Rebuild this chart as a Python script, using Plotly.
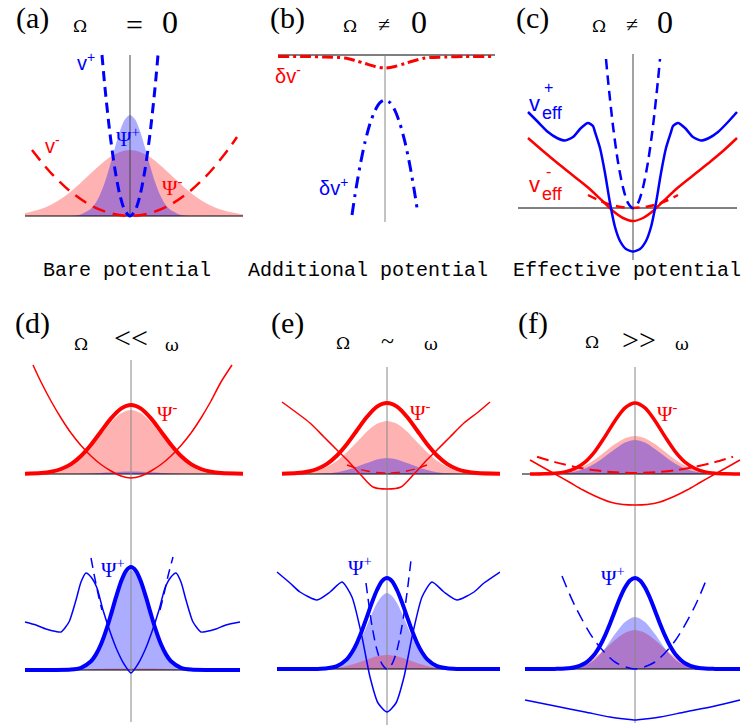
import plotly.graph_objects as go

W, H = 749, 727
UNIT = 10.0
RED = "#ff0000"
BLUE = "#0000ff"
PINK_FILL = "rgba(255,0,0,0.30)"
BLUE_FILL = "rgba(0,0,255,0.32)"

# ---------------- data (panel units) ----------------
# (a) bare potential
a_x_wide = [-10.5, -10, -9, -8, -7, -6, -5, -4, -3, -2, -1, 0, 1, 2, 3, 4, 5, 6, 7, 8, 9, 10, 11, 11.3]
a_psi_minus = [0.3, 0.39, 0.67, 1.07, 1.64, 2.38, 3.25, 4.19, 5.11, 5.89, 6.41, 6.6, 6.41, 5.89, 5.11, 4.19, 3.25, 2.38, 1.64, 1.07, 0.67, 0.39, 0.21, 0.18]
a_x_narrow = [-6, -5, -4, -3.5, -3, -2.5, -2, -1.5, -1, -0.5, 0, 0.5, 1, 1.5, 2, 2.5, 3, 3.5, 4, 5, 6]
a_psi_plus = [0.0, 0.13, 0.64, 1.22, 2.13, 3.42, 5.05, 6.85, 8.5, 9.67, 10.1, 9.67, 8.5, 6.85, 5.05, 3.42, 2.13, 1.22, 0.64, 0.13, 0.0]
a_vplus_x = [-2.8, -2.5, -2, -1.5, -1, -0.5, 0, 0.5, 1, 1.5, 2, 2.5, 2.8]
a_vplus = [16.1, 12.8, 8.21, 4.62, 2.05, 0.51, 0, 0.51, 2.05, 4.62, 8.21, 12.8, 16.1]
a_vminus_x = [-9.8, -8, -6, -4, -2, 0, 2, 4, 6, 8, 10, 10.7]
a_vminus = [6.6, 4.4, 2.48, 1.1, 0.28, 0, 0.28, 1.1, 2.48, 4.4, 6.9, 7.9]

# (b) additional potential
b_dm_x = [-10.7, -8, -6, -4, -3, -2, -1, 0, 1, 2, 3, 4, 6, 8, 11]
b_dm = [-0.15, -0.15, -0.2, -0.3, -0.55, -0.85, -1.15, -1.3, -1.15, -0.85, -0.55, -0.3, -0.2, -0.15, -0.15]
b_dp_x = [-3.3, -3, -2.5, -2, -1.5, -1, -0.5, 0, 0.5, 1, 1.5, 2, 2.5, 3, 3.2]
b_dp = [-16.0, -14.0, -11.1, -8.72, -6.88, -5.56, -4.76, -4.5, -4.76, -5.56, -6.88, -8.72, -11.1, -14.0, -15.3]

# (c) effective potential
c_vp_x = [-10.5, -9.5, -8.5, -7.6, -6.8, -6.0, -5.2, -4.5, -4.0, -3.8, -3.3, -2.8, -2.3, -1.8, -1.3, -0.7, 0,
          0.7, 1.3, 1.8, 2.3, 2.8, 3.3, 3.8, 4.0, 4.5, 5.2, 6.0, 6.8, 7.6, 8.5, 9.5, 10.4]
c_vp = [9.6, 8.6, 7.6, 7.0, 6.75, 7.1, 8.0, 8.5, 8.2, 7.6, 6.0, 3.5, 0.5, -1.9, -3.3, -4.1, -4.35,
        -4.1, -3.3, -1.9, 0.5, 3.5, 6.0, 7.6, 8.2, 8.5, 8.0, 7.1, 6.75, 7.0, 7.6, 8.6, 9.6]
c_vm_x = [-10.5, -9, -7.5, -6, -4.5, -3, -2, -1, 0, 1, 2, 3, 4.5, 6, 7.5, 9, 10.4]
c_vm = [7.0, 5.7, 4.45, 3.25, 2.05, 0.65, -0.3, -1.0, -1.3, -1.0, -0.3, 0.65, 2.05, 3.25, 4.45, 5.7, 7.0]
c_bp_x = [-2.7, -2.5, -2, -1.5, -1, -0.5, 0, 0.5, 1, 1.5, 2, 2.5, 2.7]
c_bp = [14.9, 12.8, 8.2, 4.6, 2.05, 0.5, 0, 0.5, 2.05, 4.6, 8.2, 12.8, 14.9]
c_bm_x = [-4.5, -3.5, -2.5, -1.5, 0, 1.5, 2.5, 3.5, 4.5]
c_bm = [1.3, 0.8, 0.4, 0.15, 0, 0.15, 0.4, 0.8, 1.3]

# (d) Omega << omega, top (red)
d_x = [-10.6, -9, -8, -7, -6, -5, -4, -3, -2, -1, 0, 1, 2, 3, 4, 5, 6, 7, 8, 9, 11.2]
d_red_thick = [0.02, 0.09, 0.22, 0.5, 0.99, 1.8, 2.92, 4.25, 5.56, 6.54, 6.9, 6.54, 5.56, 4.25, 2.92, 1.8, 0.99, 0.5, 0.22, 0.09, 0.02]
d_pink_fill = [0.02, 0.08, 0.2, 0.46, 0.92, 1.67, 2.71, 3.94, 5.16, 6.07, 6.4, 6.07, 5.16, 3.94, 2.71, 1.67, 0.92, 0.46, 0.2, 0.08, 0.02]
d_top_blue_fill_x = [-5, -4, -3, -2, -1, 0, 1, 2, 3, 4, 5]
d_top_blue_fill = [0.02, 0.05, 0.1, 0.17, 0.23, 0.25, 0.23, 0.17, 0.1, 0.05, 0.02]
d_vm_x = [-9.8, -9, -8, -7, -6, -5, -4, -3, -2, -1, 0, 1, 2, 3, 4, 5, 6, 7, 8, 9, 10.1]
d_vm = [10.9, 9.2, 7.3, 5.6, 4.1, 2.85, 1.8, 0.95, 0.3, -0.2, -0.4, -0.2, 0.3, 0.95, 1.8, 2.85, 4.1, 5.6, 7.3, 9.2, 10.9]
# (d) bottom (blue)
db_x = [-10.6, -8, -6, -5, -4, -3.5, -3, -2.5, -2, -1.5, -1, -0.5, 0, 0.5, 1, 1.5, 2, 2.5, 3, 3.5, 4, 5, 6, 8, 10.9]
db_blue_thick = [0, 0, 0.04, 0.22, 0.87, 1.56, 2.57, 3.93, 5.55, 7.28, 8.83, 9.91, 10.3, 9.91, 8.83, 7.28, 5.55, 3.93, 2.57, 1.56, 0.87, 0.22, 0.04, 0, 0]
db_blue_fill = [0, 0, 0.04, 0.21, 0.84, 1.51, 2.49, 3.81, 5.38, 7.06, 8.57, 9.61, 10.0, 9.61, 8.57, 7.06, 5.38, 3.81, 2.49, 1.51, 0.84, 0.21, 0.04, 0, 0]
db_pink_fill_x = [-6, -4, -2, 0, 2, 4, 6]
db_pink_fill = [0.02, 0.08, 0.14, 0.16, 0.14, 0.08, 0.02]
db_veff_x = [-10.6, -9.5, -8.5, -7.5, -7.0, -6.2, -5.5, -5.0, -4.5, -4.0, -3.4, -2.8, -2.05, -1.4, -0.7, 0,
             0.7, 1.4, 2.05, 2.8, 3.4, 4.0, 4.5, 5.0, 5.5, 6.2, 7.0, 7.5, 8.5, 9.5, 10.9]
db_veff = [4.8, 4.5, 4.1, 3.85, 3.8, 4.8, 7.0, 8.8, 9.7, 9.3, 8.2, 6.0, 3.7, 2.0, 0.6, -0.3,
           0.6, 2.0, 3.7, 6.0, 8.2, 9.3, 9.7, 8.8, 7.0, 4.8, 3.8, 3.85, 4.1, 4.5, 4.8]
# only the upper parts of the bare dashed parabola are visible
db_dash_x = [-4.0, -3.6, -3.2, -2.9, None, 2.9, 3.3, 3.7, 4.2]
db_dash = [11.2, 9.1, 7.2, 6.0, None, 6.0, 7.6, 9.4, 11.3]

# (e) Omega ~ omega, top (red)
e_x = [-10.5, -9, -8, -7, -6, -5, -4, -3, -2, -1, 0, 1, 2, 3, 4, 5, 6, 7, 8, 9, 11.3]
e_red_thick = [0.02, 0.09, 0.22, 0.5, 1.02, 1.85, 3.0, 4.37, 5.72, 6.74, 7.1, 6.74, 5.72, 4.37, 3.0, 1.85, 1.02, 0.5, 0.22, 0.09, 0.02]
e_pink_fill = [0.01, 0.06, 0.15, 0.35, 0.72, 1.32, 2.2, 3.2, 4.25, 5.02, 5.3, 5.02, 4.25, 3.2, 2.2, 1.32, 0.72, 0.35, 0.15, 0.06, 0.01]
e_top_blue_fill_x = [-7, -6, -5, -4, -3, -2, -1, 0, 1, 2, 3, 4, 5, 6, 7]
e_top_blue_fill = [0.02, 0.07, 0.18, 0.4, 0.73, 1.1, 1.46, 1.6, 1.46, 1.1, 0.73, 0.4, 0.18, 0.07, 0.02]
e_vm_x = [-10.5, -9, -7.7, -6.3, -5.0, -3.8, -2.7, -1.4, 0, 1.4, 2.7, 3.8, 5.0, 6.3, 7.7, 9, 10.3]
e_vm = [7.2, 6.1, 5.1, 3.7, 2.4, 1.2, 0, -1.3, -1.5, -1.3, 0, 1.2, 2.4, 3.7, 5.1, 6.1, 7.2]
e_bm_x = [-4, -3, -2, -1, 0, 1, 2, 3, 4]
e_bm = [0.9, 0.55, 0.3, 0.15, 0.1, 0.15, 0.3, 0.55, 0.9]
# (e) bottom (blue)
eb_x = [-11, -8, -7, -6, -5, -4, -3.5, -3, -2.5, -2, -1.5, -1, -0.5, 0, 0.5, 1, 1.5, 2, 2.5, 3, 3.5, 4, 5, 6, 7, 8, 11.3]
eb_blue_thick = [0, 0, 0.01, 0.07, 0.29, 0.99, 1.67, 2.62, 3.85, 5.24, 6.66, 7.9, 8.79, 9.1, 8.79, 7.9, 6.66, 5.24, 3.85, 2.62, 1.67, 0.99, 0.29, 0.07, 0.01, 0, 0]
eb_blue_fill = [0, 0, 0.01, 0.05, 0.24, 0.82, 1.39, 2.18, 3.2, 4.37, 5.55, 6.6, 7.3, 7.6, 7.3, 6.6, 5.55, 4.37, 3.2, 2.18, 1.39, 0.82, 0.24, 0.05, 0.01, 0, 0]
eb_pink_fill_x = [-7, -6, -5, -4, -3, -2, -1, 0, 1, 2, 3, 4, 5, 6, 7]
eb_pink_fill = [0.02, 0.05, 0.13, 0.31, 0.6, 0.96, 1.27, 1.4, 1.27, 0.96, 0.6, 0.31, 0.13, 0.05, 0.02]
eb_veff_x = [-11, -9.7, -8.7, -7.0, -5.7, -4.5, -3.5, -2.5, -1.7, -0.9, 0, 0.9, 1.7, 2.5, 3.5, 4.5, 5.7, 7.0, 8.7, 9.7, 11.3]
eb_veff = [9.7, 8.6, 7.7, 6.9, 7.7, 8.7, 7.2, 3.2, -0.8, -3.4, -4.3, -3.4, -0.8, 3.2, 7.2, 8.7, 7.7, 6.9, 7.7, 8.6, 9.7]
eb_dash_x = [-2.1, -1.5, -1, -0.5, 0, 0.5, 1, 1.5, 2, 2.4]
eb_dash = [8.6, 4.3, 1.9, 0.5, 0, 0.5, 1.9, 4.3, 7.6, 10.9]

# (f) Omega >> omega, top (red)
f_x = [-10.5, -10, -9, -8, -7, -6, -5, -4, -3, -2, -1, 0, 1, 2, 3, 4, 5, 6, 7, 8, 9, 10.5]
f_red_thick = [0, 0, 0.02, 0.07, 0.21, 0.55, 1.19, 2.27, 3.74, 5.33, 6.61, 7.1, 6.61, 5.33, 3.74, 2.27, 1.19, 0.55, 0.21, 0.07, 0.02, 0]
f_pink_fill = [0, 0.01, 0.03, 0.08, 0.2, 0.44, 0.86, 1.46, 2.22, 2.99, 3.58, 3.8, 3.58, 2.99, 2.22, 1.46, 0.86, 0.44, 0.2, 0.08, 0.03, 0.01]
f_blue_fill = [0, 0, 0.01, 0.03, 0.09, 0.24, 0.54, 1.04, 1.75, 2.5, 3.15, 3.4, 3.15, 2.5, 1.75, 1.04, 0.54, 0.24, 0.09, 0.03, 0.01, 0]
f_vm_x = [-10.5, -9, -8, -6.5, -5.2, -4, -2.5, -1.2, 0, 1.2, 2.5, 4, 5.2, 6.5, 8, 9, 10.5]
f_vm = [1.4, 0.55, 0, -0.85, -1.6, -2.2, -2.8, -3.05, -3.1, -3.05, -2.8, -2.2, -1.6, -0.85, 0, 0.55, 1.4]
f_bm_x = [-9.8, -8, -6, -4, -2, 0, 2, 4, 6, 8, 9.8]
f_bm = [1.73, 1.19, 0.71, 0.37, 0.17, 0.1, 0.17, 0.37, 0.71, 1.19, 1.73]
# (f) bottom (blue)
fb_x = [-11, -9, -8, -7, -6, -5, -4, -3.5, -3, -2.5, -2, -1.5, -1, -0.5, 0, 0.5, 1, 1.5, 2, 2.5, 3, 3.5, 4, 5, 6, 7, 8, 10.5]
fb_blue_thick = [0, 0, 0.01, 0.04, 0.17, 0.57, 1.53, 2.32, 3.34, 4.53, 5.83, 7.1, 8.15, 8.85, 9.1, 8.85, 8.15, 7.1, 5.83, 4.53, 3.34, 2.32, 1.53, 0.57, 0.17, 0.04, 0.01, 0]
fb_fill_x = [-8, -7, -6, -5, -4, -3, -2, -1, 0, 1, 2, 3, 4, 5, 6, 7, 8]
fb_blue_fill = [0.01, 0.03, 0.12, 0.37, 0.98, 2.05, 3.49, 4.7, 5.2, 4.7, 3.49, 2.05, 0.98, 0.37, 0.12, 0.03, 0.01]
fb_pink_fill = [0.03, 0.1, 0.27, 0.62, 1.2, 2.0, 2.9, 3.62, 3.9, 3.62, 2.9, 2.0, 1.2, 0.62, 0.27, 0.1, 0.03]
fb_dash_x = [-7.3, -6, -4, -2, 0, 2, 4, 6, 7.2]
fb_dash = [9.3, 6.3, 2.8, 0.7, 0, 0.7, 2.8, 6.3, 9.1]
fb_low_x = [-11, -8, -5, -2.5, -1, 0, 1, 2.5, 5, 8, 10.5]
fb_low = [-3.1, -3.7, -4.3, -4.8, -5.0, -5.1, -5.0, -4.8, -4.3, -3.7, -3.1]

# axis-line extents (panel units): h = (xmin, xmax), v = (ymin, ymax)
axes_ext = {
    'a': ((-10.5, 11.3), (0, 16.1), "#444"),
    'b': ((-10.7, 11.0), (-16.7, 0), "#888"),
    'c': ((-11.5, 10.4), (-5.2, 15.4), "#444"),
    'dt': ((-10.6, 11.2), (-4.7, 11.4), "#888"),
    'db': ((-10.6, 10.9), (-5.2, 15.1), "#888"),
    'et': ((-10.5, 11.3), (-4.7, 10.7), "#888"),
    'eb': ((-11.0, 11.3), (-5.6, 15.0), "#888"),
    'ft': ((-11.3, 10.5), (-4.7, 10.7), "#888"),
    'fb': ((-11.0, 10.5), (-5.4, 15.0), "#888"),
}

# ---------------- layout of panels (pixel boxes and origins) ----------------
panels = {
    'a': ((0, 250, 40, 265), (130, 216)),
    'b': ((250, 500, 40, 265), (385, 55)),
    'c': ((500, 749, 40, 265), (633, 208)),
    'dt': ((0, 250, 355, 520), (131, 474)),
    'db': ((0, 250, 520, 727), (131, 670)),
    'et': ((250, 500, 355, 520), (387, 474)),
    'eb': ((250, 500, 520, 727), (387, 669)),
    'ft': ((500, 749, 355, 520), (635, 474)),
    'fb': ((500, 749, 520, 727), (635, 669)),
}

fig = go.Figure()
layout = dict(width=W, height=H, margin=dict(l=0, r=0, t=0, b=0),
              paper_bgcolor="white", plot_bgcolor="rgba(0,0,0,0)", showlegend=False)
idx = {}
for i, (name, ((x0, x1, y0, y1), (cx, by))) in enumerate(panels.items(), start=1):
    idx[name] = i
    sfx = "" if i == 1 else str(i)
    layout["xaxis" + sfx] = dict(domain=[x0 / W, x1 / W], range=[(x0 - cx) / UNIT, (x1 - cx) / UNIT],
                                 visible=False, fixedrange=True, anchor="y" + sfx)
    layout["yaxis" + sfx] = dict(domain=[1 - y1 / H, 1 - y0 / H], range=[(by - y1) / UNIT, (by - y0) / UNIT],
                                 visible=False, fixedrange=True, anchor="x" + sfx)
fig.update_layout(**layout)


def ax(name):
    i = idx[name]
    return ("x" if i == 1 else f"x{i}"), ("y" if i == 1 else f"y{i}")


def line(name, x, y, color, width, dash="solid", shape="spline", smoothing=0.8):
    xa, ya = ax(name)
    fig.add_trace(go.Scatter(x=x, y=y, xaxis=xa, yaxis=ya, mode="lines",
                             line=dict(color=color, width=width, dash=dash, shape=shape, smoothing=smoothing),
                             hoverinfo="skip", cliponaxis=False, connectgaps=False))


def fill(name, x, y, color):
    xa, ya = ax(name)
    fig.add_trace(go.Scatter(x=x, y=y, xaxis=xa, yaxis=ya, mode="lines", fill="tozeroy",
                             fillcolor=color, line=dict(width=0, shape="spline", smoothing=0.8),
                             hoverinfo="skip"))


def axis_lines(name):
    (hx0, hx1), (vy0, vy1), vcol = axes_ext[name]
    line(name, [hx0, hx1], [0, 0], "#000000", 1, shape="linear")
    line(name, [0, 0], [vy0, vy1], vcol, 1, shape="linear")


# ---- fills first ----
fill('a', a_x_wide, a_psi_minus, PINK_FILL)
fill('a', a_x_narrow, a_psi_plus, BLUE_FILL)
fill('dt', d_x, d_pink_fill, PINK_FILL)
fill('dt', d_top_blue_fill_x, d_top_blue_fill, BLUE_FILL)
fill('db', db_x, db_blue_fill, BLUE_FILL)
fill('db', db_pink_fill_x, db_pink_fill, PINK_FILL)
fill('et', e_x, e_pink_fill, PINK_FILL)
fill('et', e_top_blue_fill_x, e_top_blue_fill, BLUE_FILL)
fill('eb', eb_x, eb_blue_fill, BLUE_FILL)
fill('eb', eb_pink_fill_x, eb_pink_fill, PINK_FILL)
fill('ft', f_x, f_pink_fill, PINK_FILL)
fill('ft', f_x, f_blue_fill, BLUE_FILL)
fill('fb', fb_fill_x, fb_pink_fill, PINK_FILL)
fill('fb', fb_fill_x, fb_blue_fill, BLUE_FILL)

# ---- axis lines ----
for n in panels:
    axis_lines(n)

# ---- curves ----
# (a)
line('a', a_vminus_x, a_vminus, RED, 2.5, dash="13px,8px")
line('a', a_vplus_x, a_vplus, BLUE, 3, dash="10px,6px")
# (b)
line('b', b_dm_x, b_dm, RED, 3, dash="11px,4px,3px,4px")
line('b', b_dp_x, b_dp, BLUE, 3, dash="12px,6px,3px,6px")
# (c)
line('c', c_bm_x, c_bm, RED, 2.5, dash="9px,6px")
line('c', c_bp_x, c_bp, BLUE, 2.5, dash="10px,6px")
line('c', c_vm_x, c_vm, RED, 2.5, smoothing=1.0)
line('c', c_vp_x, c_vp, BLUE, 2.5, smoothing=0.6)
# (d)
line('dt', d_vm_x, d_vm, RED, 1.5)
line('dt', d_x, d_red_thick, RED, 4)
line('db', db_dash_x, db_dash, BLUE, 1.5, dash="10px,6px")
line('db', db_veff_x, db_veff, BLUE, 1.5, smoothing=0.6)
line('db', db_x, db_blue_thick, BLUE, 4)
# (e)
line('et', e_bm_x, e_bm, RED, 1.5, dash="9px,6px")
line('et', e_vm_x, e_vm, RED, 1.5)
line('et', e_x, e_red_thick, RED, 4)
line('eb', eb_dash_x, eb_dash, BLUE, 1.5, dash="10px,6px")
line('eb', eb_veff_x, eb_veff, BLUE, 1.5, smoothing=0.6)
line('eb', eb_x, eb_blue_thick, BLUE, 4)
# (f)
line('ft', f_bm_x, f_bm, RED, 2, dash="12px,6px")
line('ft', f_vm_x, f_vm, RED, 1.5)
line('ft', f_x, f_red_thick, RED, 3.5)
line('fb', fb_dash_x, fb_dash, BLUE, 1.5, dash="12px,7px")
line('fb', fb_low_x, fb_low, BLUE, 1.5)
line('fb', fb_x, fb_blue_thick, BLUE, 4)

# ---------------- text ----------------
SERIF = "Liberation Serif"
SANS = "Liberation Sans"
MONO = "Liberation Mono"
OMEGA_FONT = "DejaVu Serif"
ann = []


def lab(name, x, y, text, color, size, family):
    xa, ya = ax(name)
    ann.append(dict(x=x, y=y, xref=xa, yref=ya, text=text, showarrow=False,
                    font=dict(color=color, size=size, family=family), xanchor="center", yanchor="middle"))


def ptext(px, py, text, size, family, color="#000"):
    ann.append(dict(x=px / W, y=1 - py / H, xref="paper", yref="paper", text=text, showarrow=False,
                    font=dict(color=color, size=size, family=family), xanchor="center", yanchor="middle"))


# curve labels
lab('a', -4.4, 15.4, "v<sup>+</sup>", BLUE, 20, SANS)
lab('a', -7.8, 7.1, "v<sup>-</sup>", RED, 20, SANS)
lab('a', -0.2, 7.8, "Ψ<sup>+</sup>", BLUE, 21, SERIF)
lab('a', 4.2, 2.9, "Ψ<sup>-</sup>", RED, 21, SERIF)
lab('b', -9.7, -2.0, "δv<sup>-</sup>", RED, 20, SANS)
lab('b', -5.2, -13.2, "δv<sup>+</sup>", BLUE, 20, SANS)
lab('c', -9.9, 10.4, "v", BLUE, 22, SANS)
lab('c', -8.5, 12.0, "+", BLUE, 16, SANS)
lab('c', -8.1, 9.5, "eff", BLUE, 18, SANS)
lab('c', -9.9, 2.3, "v", RED, 22, SANS)
lab('c', -8.5, 3.6, "-", RED, 16, SANS)
lab('c', -8.1, 1.4, "eff", RED, 18, SANS)
lab('dt', 3.6, 6.2, "Ψ<sup>-</sup>", RED, 21, SERIF)
lab('db', -1.8, 10.2, "Ψ<sup>+</sup>", BLUE, 21, SERIF)
lab('et', 3.3, 6.3, "Ψ<sup>-</sup>", RED, 21, SERIF)
lab('eb', -2.7, 10.3, "Ψ<sup>+</sup>", BLUE, 21, SERIF)
lab('ft', 3.2, 6.2, "Ψ<sup>-</sup>", RED, 21, SERIF)
lab('fb', -2.2, 9.3, "Ψ<sup>+</sup>", BLUE, 21, SERIF)

# panel tags and titles
ptext(32, 18, "(a)", 30, SERIF)
ptext(80, 26, "Ω", 17, OMEGA_FONT)
ptext(134, 24, "=", 30, SERIF)
ptext(170, 22, "0", 32, SERIF)
ptext(287, 18, "(b)", 30, SERIF)
ptext(350, 26, "Ω", 17, OMEGA_FONT)
ptext(384, 24, "≠", 22, SERIF)
ptext(419, 22, "0", 32, SERIF)
ptext(532, 18, "(c)", 30, SERIF)
ptext(599, 26, "Ω", 17, OMEGA_FONT)
ptext(632, 24, "≠", 22, SERIF)
ptext(665, 22, "0", 32, SERIF)

ptext(32, 323, "(d)", 30, SERIF)
ptext(81, 344, "Ω", 17, OMEGA_FONT)
ptext(131, 338, "&lt;&lt;", 30, SERIF)
ptext(172, 345, "ω", 17, OMEGA_FONT)
ptext(287, 323, "(e)", 30, SERIF)
ptext(343, 343, "Ω", 17, OMEGA_FONT)
ptext(387, 341, "~", 24, SERIF)
ptext(431, 344, "ω", 17, OMEGA_FONT)
ptext(533, 323, "(f)", 30, SERIF)
ptext(592, 342, "Ω", 17, OMEGA_FONT)
ptext(639, 339, "&gt;&gt;", 30, SERIF)
ptext(682, 344, "ω", 17, OMEGA_FONT)

ptext(127, 270, "Bare potential", 20, MONO)
ptext(368, 270, "Additional potential", 20, MONO)
ptext(627, 270, "Effective potential", 20, MONO)

fig.update_layout(annotations=ann)
fig.write_html("out.html")
